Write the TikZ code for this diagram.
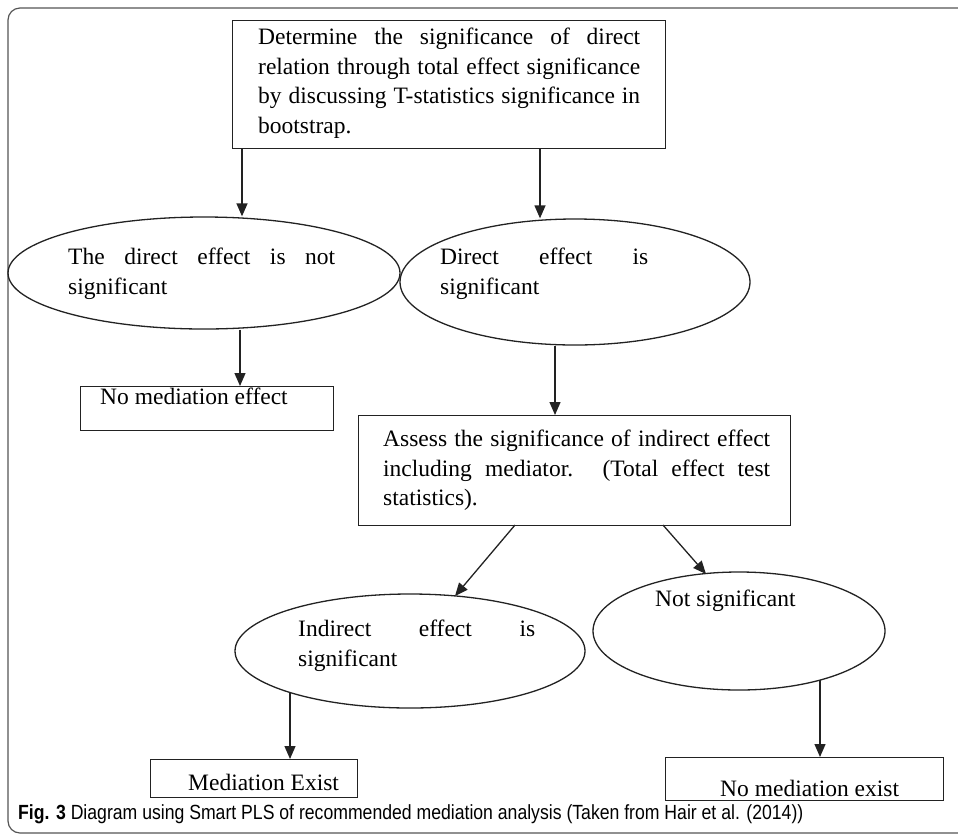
\documentclass[tikz,border=0pt]{standalone}
\usepackage{fontspec}
\setmainfont{Liberation Serif}
\newfontfamily\capfont[FakeStretch=0.86]{Liberation Sans}
\usetikzlibrary{arrows.meta,shapes.geometric}
\definecolor{linec}{HTML}{222222}
\definecolor{framec}{HTML}{555555}
\begin{document}
\begin{tikzpicture}[x=1pt,y=-1pt,
  boxn/.style={draw=linec, line width=1.3pt, inner sep=0pt, anchor=north west},
  ell/.style={ellipse, draw=linec, line width=1.3pt, inner sep=0pt},
  txt/.style={inner sep=0pt, anchor=north west, font=\fontsize{23.5}{29.5}\selectfont, text=black},
  jtxt/.style={txt, align=justify},
  arr/.style={draw=linec, line width=1.3pt, -{Triangle[length=13pt,width=11pt]}}]
\useasboundingbox (0,0) rectangle (958,839);
% frame
\draw[framec, line width=1.2pt, rounded corners=12pt] (975,8) -- (8,8) -- (8,833) -- (975,833);
% boxes
\node[boxn, minimum width=433, minimum height=128] (topbox) at (232,20) {};
\node[jtxt, text width=382] (toptext) at (258,28) {Determine the significance of direct\linebreak relation through total effect significance\linebreak by discussing T-statistics significance in\linebreak bootstrap.};
\node[ell, minimum width=392, minimum height=112] (e1) at (204,273) {};
\node[jtxt, text width=267] (e1t) at (68,248) {The direct effect is not\linebreak significant};
\node[ell, minimum width=350, minimum height=126] (e2) at (575,282) {};
\node[jtxt, text width=208] (e2t) at (440,248) {Direct effect is\linebreak significant};
\node[boxn, minimum width=253, minimum height=44] (nme) at (80,386) {};
\node[txt] (nmet) at (100,388) {No mediation effect};
\node[boxn, minimum width=207, minimum height=38] (me) at (150,759) {};
\node[txt] (met) at (188,774) {Mediation Exist};
\node[boxn, minimum width=432, minimum height=110] (assess) at (358,415) {};
\node[jtxt, text width=387] (assesst) at (383,430) {Assess the significance of indirect effect\linebreak including mediator. (Total effect test\linebreak statistics).};
\node[ell, minimum width=350, minimum height=114] (e3) at (410,651) {};
\node[jtxt, text width=237] (e3t) at (298,620) {Indirect effect is\linebreak significant};
\node[ell, minimum width=292, minimum height=118] (e4) at (739,631) {};
\node[txt] (e4t) at (655,590) {Not significant};
\node[boxn, minimum width=278, minimum height=43] (nmex) at (665,757) {};
\node[txt] (nmext) at (720,780) {No mediation exist};
% caption
\node[anchor=base west, inner sep=0pt, font=\capfont\fontsize{20.5}{22}\selectfont, text=black] (cap) at (18,819) {\textbf{Fig. 3} Diagram using Smart PLS of recommended mediation analysis (Taken from Hair et al. (2014))};
% connectors
\coordinate (c1) at (242,0);
\coordinate (c2) at (540,0);
\coordinate (c3) at (240,0);
\coordinate (c4) at (555,0);
\coordinate (s5) at (515,525);
\coordinate (t5) at (455,596);
\coordinate (s6) at (663,525);
\coordinate (t6) at (706,574);
\coordinate (s7) at (290,692);
\coordinate (s8) at (820,680);
\draw[arr] (topbox.south -| c1) -- (e1.north -| c1);
\draw[arr] (topbox.south -| c2) -- (e2.north -| c2);
\draw[arr] (e1.south -| c3) -- (nme.north -| c3);
\draw[arr] (e2.south -| c4) -- (assess.north -| c4);
\draw[arr] (s5) -- (t5);
\draw[arr] (s6) -- (t6);
\draw[arr] (s7) -- (me.north -| s7);
\draw[arr] (s8) -- (nmex.north -| s8);
\end{tikzpicture}
\end{document}
